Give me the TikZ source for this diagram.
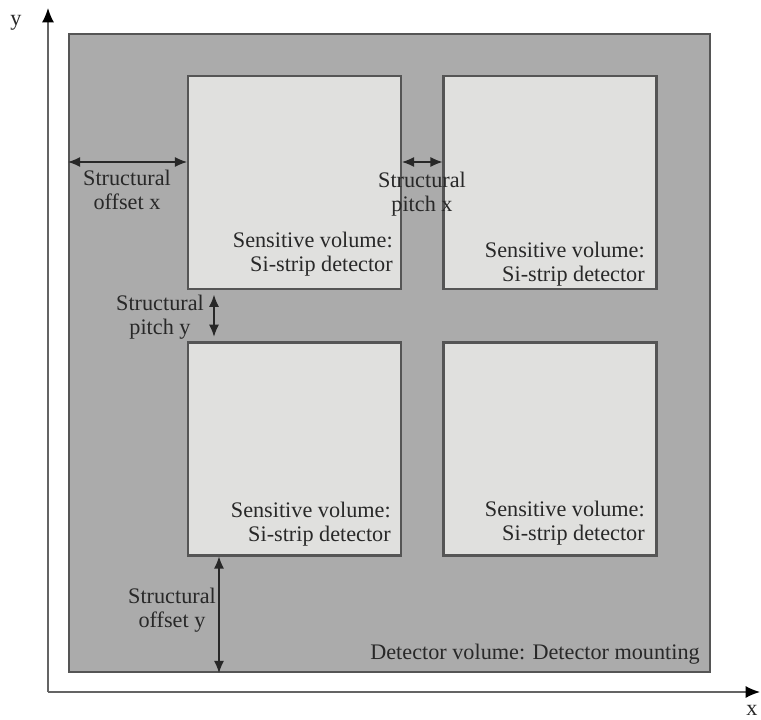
\documentclass[tikz,border=0pt]{standalone}
\usepackage{fontspec}
\setmainfont{Liberation Serif}
\usepackage{tikz}
\usetikzlibrary{arrows.meta, positioning, calc}
\usepackage{xcolor}
\definecolor{mountgray}{RGB}{171,171,171}
\definecolor{sensorgray}{RGB}{224,224,222}
\definecolor{edgegray}{RGB}{85,85,85}
\definecolor{textgray}{RGB}{40,40,40}
\definecolor{axisgray}{RGB}{100,100,100}
\tikzstyle{mounting} = [rectangle, draw=edgegray, line width=1.3pt, fill=mountgray, minimum width=16.025cm, minimum height=15.95cm, inner sep=0pt]
\tikzstyle{sensor} = [rectangle, draw=edgegray, line width=1.5pt, fill=sensorgray, minimum width=5.325cm, minimum height=5.325cm, inner sep=0pt]
\tikzstyle{label} = [font=\fontsize{15.8}{17}\selectfont, text=textgray, inner sep=0pt]
\tikzstyle{sensorlabel} = [label, align=right, anchor=east]
\tikzstyle{dimlabel} = [label, align=center]
\tikzstyle{dimarrow} = [draw=textgray, line width=0.8pt, {Latex[length=3mm,width=2.5mm]}-{Latex[length=3mm,width=2.5mm]}]
\tikzstyle{axis} = [draw=axisgray, line width=1pt, -{Latex[length=3.6mm,width=3mm,color=black]}]

\begin{document}
\begin{tikzpicture}

\useasboundingbox[fill=white] (0,0) rectangle (19.025,17.975);

% Detector mounting
\node[mounting] (mount) at (9.7375,9.15) {};
\node[label, anchor=east] (mount_lbl) at (17.5,1.625) {Detector volume: Detector mounting};

% Sensitive volumes
\node[sensor] (tl) at (7.3625,13.4125) {};
\node[sensor] (tr) at (13.75,13.4125) {};
\node[sensor] (bl) at (7.3625,6.75) {};
\node[sensor] (br) at (13.75,6.75) {};

\node[sensorlabel] (tl_lbl) at (9.825,11.625) {Sensitive volume:\\Si-strip detector};
\node[sensorlabel] (tr_lbl) at (16.125,11.375) {Sensitive volume:\\Si-strip detector};
\node[sensorlabel] (bl_lbl) at (9.775,4.875) {Sensitive volume:\\Si-strip detector};
\node[sensorlabel] (br_lbl) at (16.125,4.89) {Sensitive volume:\\Si-strip detector};

% Axes
\coordinate (origin) at (1.2,0.675);
\coordinate (ytip) at (1.2,17.775);
\coordinate (xtip) at (19.0,0.675);
\draw[axis] (origin) -- (ytip);
\draw[axis] (origin) -- (xtip);
\node[label] (ylbl) at (0.4,17.4) {y};
\node[label] (xlbl) at (18.8,0.22) {x};

% Structural offsets and pitches
\coordinate (dimx) at (0,13.925);
\draw[dimarrow] (mount.west |- dimx) -- (tl.west |- dimx);
\draw[dimarrow] (tl.east |- dimx) -- (tr.west |- dimx);
\node[dimlabel] (offx_lbl) at (3.175,13.225) {Structural\\offset x};
\node[dimlabel] (pitchx_lbl) at (10.55,13.125) {Structural\\pitch x};

\coordinate (dimpy) at (5.35,0);
\draw[dimarrow, shorten <=0.12cm, shorten >=0.12cm] (tl.south -| dimpy) -- (bl.north -| dimpy);
\node[dimlabel] (pitchy_lbl) at (4.0,10.05) {Structural\\pitch y};

\coordinate (dimoy) at (5.475,0);
\draw[dimarrow] (bl.south -| dimoy) -- (mount.south -| dimoy);
\node[dimlabel] (offy_lbl) at (4.3,2.725) {Structural\\offset y};

\end{tikzpicture}
\end{document}
